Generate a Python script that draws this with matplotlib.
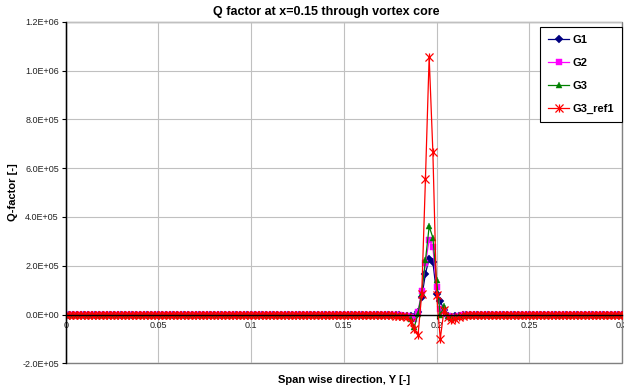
import numpy as np
import matplotlib.pyplot as plt
from matplotlib.path import Path
from matplotlib.patches import Rectangle
from matplotlib.ticker import FuncFormatter, MultipleLocator

plt.rcParams['font.family'] = ['Liberation Sans', 'DejaVu Sans']

# span wise stations, 0.002 spacing
y_pos = np.round(np.linspace(0.0, 0.3, 151), 3)

# Q values through the core (0.170 ... 0.220), in thousands
g1_core = [-1, -1, -2, -2, -3, -4, -5, -6,
           -8, -12, 10, 71, 167, 229, 216, 85, 55, 20, -5, -10, -8, -6, -4, -2, -1, 0]
g2_core = [-1, -1, -2, -2, -3, -4, -5, -7,
           -10, -20, 12, 96, 210, 305, 277, 112, 23, 15, -5, -12, -10, -7, -4, -2, -1, 0]
g3_core = [-1, -1, -2, -3, -4, -5, -6, -8,
           -20, -51, 4, 90, 222, 361, 315, 141, -3, 34, -7, -15, -12, -8, -5, -2, -1, 0]
ref_core = [-1, -2, -3, -4, -5, -6, -8, -12,
            -30, -59, -85, 85, 555, 1056, 667, 80, -99, 17, -12, -24, -17, -10, -5, -3, -1, 0]

n_left = 85    # 0 ... 0.168, Q ~ 0
n_right = 40   # 0.222 ... 0.3, Q ~ 0

def full(core):
    return np.array([0.0] * n_left + core + [0.0] * n_right) * 1e3

series = [
    ('G1', full(g1_core), '#000080', 'D', 3.8),
    ('G2', full(g2_core), '#FF00FF', 's', 4.6),
    ('G3', full(g3_core), '#008000', '^', 5.0),
    ('G3_ref1', full(ref_core), '#FF0000', 'star', 5.8),
]

# excel style star: x with a vertical bar
star = Path([(-1, -1), (1, 1), (-1, 1), (1, -1), (0, -1), (0, 1)],
            [Path.MOVETO, Path.LINETO, Path.MOVETO, Path.LINETO, Path.MOVETO, Path.LINETO])

fig = plt.figure(figsize=(6.24, 3.91), dpi=100)
ax = fig.add_axes([0.1053, 0.0708, 0.8915, 0.8737])

for name, q, col, mk, ms in series:
    if mk == 'star':
        ax.plot(y_pos, q, color=col, lw=0.9, marker=star, ms=ms, mew=0.9,
                mfc=col, mec=col, label=name)
    else:
        ax.plot(y_pos, q, color=col, lw=0.9, marker=mk, ms=ms, mew=0.3,
                mfc=col, mec=col, label=name)

ax.set_xlim(0, 0.3)
ax.set_ylim(-2e5, 1.2e6)
ax.xaxis.set_major_locator(MultipleLocator(0.05))
ax.yaxis.set_major_locator(MultipleLocator(2e5))
ax.xaxis.set_major_formatter(FuncFormatter(lambda v, p: '0' if abs(v) < 1e-9 else ('%.2f' % v).rstrip('0')))
ax.yaxis.set_major_formatter(FuncFormatter(lambda v, p: '%.1E' % v))
ax.grid(True, color='#C0C0C0', lw=0.8)
ax.set_axisbelow(True)

# x axis crosses at Q = 0
ax.spines['bottom'].set_position(('data', 0))
ax.spines['bottom'].set_color('black')
ax.spines['bottom'].set_linewidth(1.0)
ax.spines['left'].set_color('black')
ax.spines['left'].set_linewidth(1.0)
ax.spines['top'].set_visible(False)
ax.spines['right'].set_visible(False)
ax.add_patch(Rectangle((0, 0), 1, 1, transform=ax.transAxes, fill=False,
                       ec='#808080', lw=1.0, clip_on=False, zorder=0.5))

ax.tick_params(axis='both', direction='out', length=3, width=0.8, labelsize=6.5,
               colors='black', labelcolor='#222222')
ax.tick_params(axis='x', pad=2)
ax.tick_params(axis='y', pad=2)

ax.set_title('Q factor at x=0.15 through vortex core', fontsize=9,
             fontweight='bold', pad=5, x=0.469)
ax.set_xlabel('Span wise direction, Y [-]', fontsize=8, fontweight='bold')
ax.xaxis.set_label_coords(0.5, -0.035)
ax.set_ylabel('Q-factor [-]', fontsize=8, fontweight='bold', labelpad=3)

leg = ax.legend(loc='upper right', bbox_to_anchor=(1.0, 0.985), borderaxespad=0,
                fancybox=False, edgecolor='black', framealpha=1,
                prop={'size': 8, 'weight': 'bold'}, labelspacing=1.15,
                handlelength=1.9, handletextpad=0.25, borderpad=0.75)
leg.get_frame().set_linewidth(0.8)

fig.savefig('out.png', dpi=100)
